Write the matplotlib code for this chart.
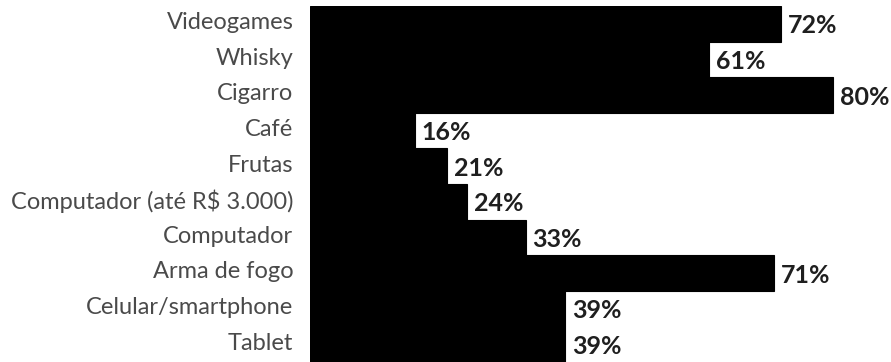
import matplotlib
matplotlib.use("Agg")
import matplotlib.pyplot as plt
import matplotlib.transforms as mtransforms

categories = [
    "Videogames",
    "Whisky",
    "Cigarro",
    "Café",
    "Frutas",
    "Computador (até R$ 3.000)",
    "Computador",
    "Arma de fogo",
    "Celular/smartphone",
    "Tablet",
]
values = [72, 61, 80, 16, 21, 24, 33, 71, 39, 39]

plt.rcParams["font.family"] = ["Lato", "DejaVu Sans"]

fig = plt.figure(figsize=(8.91, 3.62), dpi=100)
ax = fig.add_axes([310 / 891, 0, 1 - 310 / 891, 1 - 6 / 362])

ypos = list(range(len(categories)))
# black edges so the stacked bars merge without seams
ax.barh(ypos, values, height=1.0, color="black", edgecolor="black", linewidth=0.8)

ax.set_ylim(len(categories) - 0.5, -0.5)
ax.set_xlim(0, 88.9)

for y, v in zip(ypos, values):
    ax.annotate(
        f"{v}%",
        xy=(v, y),
        xytext=(5, -1.5),
        textcoords="offset points",
        va="center",
        ha="left",
        fontsize=18,
        fontweight="bold",
        color="#1f1f1f",
        bbox=dict(boxstyle="square,pad=0.1", fc="white", ec="none"),
    )

ax.set_yticks(ypos)
ax.set_yticklabels(categories, fontsize=17, color="#4a4a4a")
ax.tick_params(axis="y", length=0, pad=12)
# nudge category names up a few pixels, like the original
shift = mtransforms.ScaledTranslation(0, 3 / 100, fig.dpi_scale_trans)
for lbl in ax.get_yticklabels():
    lbl.set_transform(lbl.get_transform() + shift)
ax.set_xticks([])
for s in ax.spines.values():
    s.set_visible(False)

fig.savefig("out.png", dpi=100)
